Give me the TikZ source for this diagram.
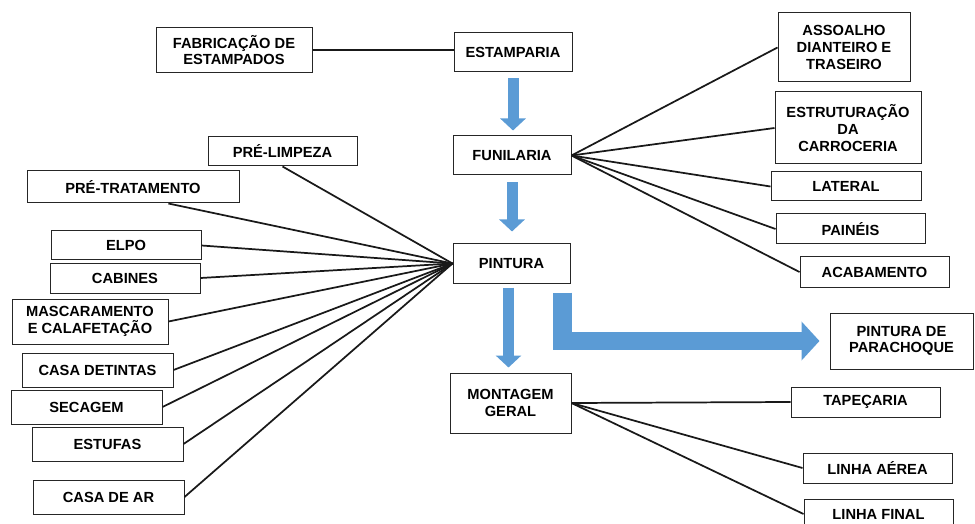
\documentclass[tikz,border=0pt]{standalone}
\usepackage{fontspec}
\setmainfont{Liberation Sans}
\usetikzlibrary{arrows.meta}

\definecolor{flowblue}{HTML}{5B9BD5}
\tikzset{
  box/.style 2 args={draw=black!85, line width=0.75pt, fill=white, align=center, inner sep=1pt,
    minimum width=#1*0.75pt, minimum height=#2*0.75pt, font=\bfseries\fontsize{11}{12.5}\selectfont},
  link/.style={line width=1.3pt, black!90},
  flow/.style={line width=8.25pt, flowblue, -{Triangle[length=9pt, width=18.75pt]}},
  bigflow/.style={line width=14pt, flowblue, line join=miter, -{Triangle[length=13.5pt, width=28.5pt]}},
}

\begin{document}
\begin{tikzpicture}[x=0.75pt, y=-0.75pt]
    \clip (0,0) rectangle (975,524);

    % Main line
    \node[box={118}{39}] (estamp) at (513,52.5) {ESTAMPARIA};
    \node[box={118}{39}] (funil) at (512,155.5) {FUNILARIA};
    \node[box={117}{39}] (pint) at (511.5,263.5) {PINTURA};
    \node[box={121}{60}] (mont) at (510.5,403) {MONTAGEM\\GERAL};
    \node[box={143}{56}] (parach) at (901.5,341) {PINTURA DE\\PARACHOQUE};

    % Stamping
    \node[box={156}{45}] (fab) at (234,50) {FABRICAÇÃO DE\\ESTAMPADOS};
    \draw[link] (fab.east) -- (fab.east -| estamp.west);

    % Body shop
    \node[box={132}{69}] (assoalho) at (844,47.5) {ASSOALHO\\DIANTEIRO E\\TRASEIRO};
    \node[box={146}{72}] (estrut) at (848,128) {ESTRUTURAÇÃO\\DA\\CARROCERIA};
    \node[box={150}{29}] (lateral) at (846,186.5) {LATERAL};
    \node[box={149}{30}] (paineis) at (850.5,229) {PAINÉIS};
    \node[box={149}{30}] (acab) at (874.5,272) {ACABAMENTO};
    \foreach \n in {assoalho, estrut, lateral, paineis, acab}
        \draw[link] (funil.east) -- (\n.west);

    % Paint shop
    \node[box={149}{29}] (prelimp) at (282.5,151.5) {PRÉ-LIMPEZA};
    \node[box={212}{32}] (pretrat) at (133,187) {PRÉ-TRATAMENTO};
    \node[box={150}{29}] (elpo) at (126,245.5) {ELPO};
    \node[box={150}{30}] (cabines) at (125,278) {CABINES};
    \node[box={156}{45}] (masc) at (90,321.5) {MASCARAMENTO\\E CALAFETAÇÃO};
    \node[box={151}{34}] (casatin) at (97.5,370) {CASA DETINTAS};
    \node[box={151}{34}] (secagem) at (86.5,407) {SECAGEM};
    \node[box={151}{34}] (estufas) at (107.5,444) {ESTUFAS};
    \node[box={151}{34}] (casaar) at (108.5,497) {CASA DE AR};
    \draw[link] (prelimp.south) -- (pint.west);
    \draw[link] (pretrat.-25) -- (pint.west);
    \foreach \n in {elpo, cabines, masc, casatin, secagem, estufas, casaar}
        \draw[link] (\n.east) -- (pint.west);

    % Assembly
    \node[box={149}{30}] (tapec) at (865.5,402) {TAPEÇARIA};
    \node[box={149}{30}] (laerea) at (877.5,468) {LINHA AÉREA};
    \node[box={149}{30}] (lfinal) at (878.5,514) {LINHA FINAL};
    \foreach \n in {tapec, laerea, lfinal}
        \draw[link] (mont.east) -- (\n.west);

    % Flow arrows
    \draw[flow, shorten <=4.5pt, shorten >=3.75pt] (estamp.south) -- (estamp.south |- funil.north);
    \draw[flow, shorten <=5.25pt, shorten >=9pt] (funil.south) -- (funil.south |- pint.north);
    \draw[flow, shorten <=3pt, shorten >=3.75pt] ([xshift=-2.25pt]pint.south) -- ([xshift=-2.25pt]pint.south |- mont.north);
    \draw[bigflow, shorten >=7.5pt] ([xshift=-6pt, yshift=-6.75pt]pint.south east) |- (parach.west);
\end{tikzpicture}
\end{document}
